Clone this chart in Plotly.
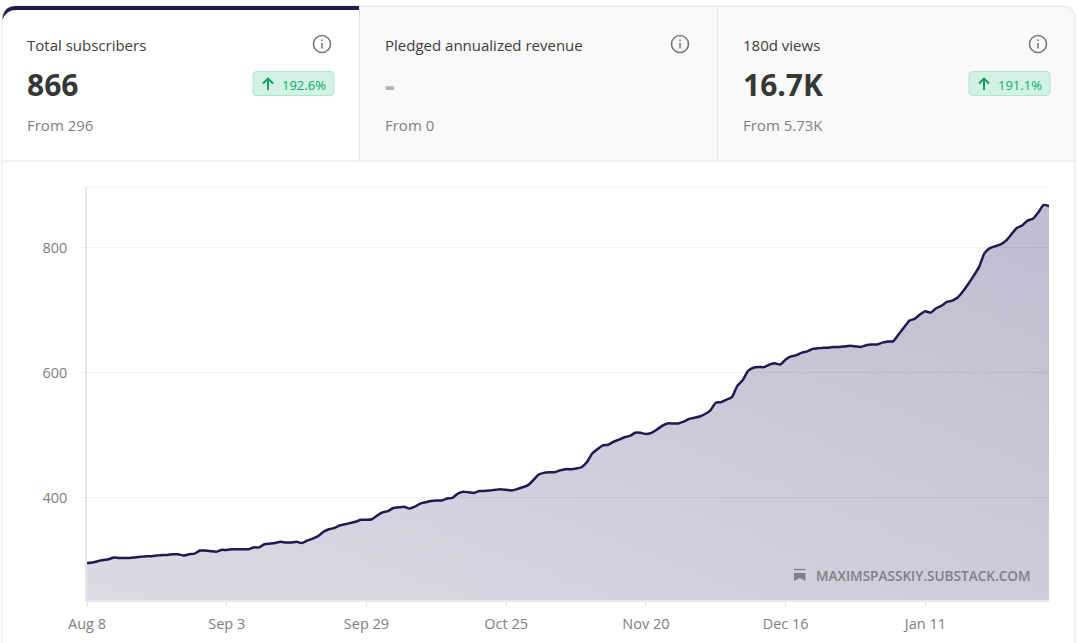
import pandas as pd
import plotly.graph_objects as go

# daily subscriber counts, Aug 8 to Feb 3
subscribers = [
    296, 297, 299, 301, 302, 305, 304, 304, 304, 305, 306, 307, 307, 308, 309, 309, 310, 310, 308, 310,
    311, 316, 316, 315, 314, 317, 317, 318, 318, 318, 318, 321, 321, 326, 327, 328, 330, 329, 329, 330,
    328, 332, 335, 339, 346, 350, 352, 356, 358, 360, 362, 365, 365, 366, 372, 377, 379, 384, 385, 386,
    383, 386, 391, 393, 395, 396, 396, 399, 400, 407, 410, 409, 408, 411, 411, 412, 413, 414, 413, 412,
    414, 417, 420, 428, 437, 440, 441, 441, 444, 446, 446, 447, 449, 457, 471, 478, 484, 485, 490, 493,
    497, 499, 504, 504, 502, 504, 509, 515, 519, 519, 519, 522, 526, 528, 530, 534, 540, 552, 553, 557,
    561, 579, 588, 603, 608, 609, 609, 613, 615, 613, 621, 626, 628, 632, 634, 638, 639, 640, 640, 641,
    641, 642, 643, 642, 641, 644, 645, 645, 648, 650, 650, 661, 672, 683, 686, 693, 698, 696, 703, 707,
    713, 715, 720, 730, 742, 755, 769, 791, 799, 802, 805, 811, 821, 831, 835, 843, 846, 856, 868, 866,
]
dates = pd.date_range("2024-08-08", periods=len(subscribers), freq="D")

x_ticks = ["2024-08-08", "2024-09-03", "2024-09-29", "2024-10-25", "2024-11-20", "2024-12-16", "2025-01-11"]
x_labels = ["Aug 8", "Sep 3", "Sep 29", "Oct 25", "Nov 20", "Dec 16", "Jan 11"]
y_ticks = [400, 600, 800]

card_titles = ["Total subscribers", "Pledged annualized revenue", "180d views"]
card_values = ["866", "-", "16.7K"]
card_froms = ["From 296", "From 0", "From 5.73K"]
card_badges = ["192.6%", None, "191.1%"]

FONT = "Open Sans"
NAVY = "#1f1a4f"
BORDER = "#e4e4e6"
W, H = 1078, 643
L, R, T, B = 87, 1049, 187, 600


# pixel position on the page -> paper coordinates
def xp(px):
    return (px - L) / (R - L)


def yp(py):
    return (B - py) / (B - T)


fig = go.Figure()

# two stacked fills give the diagonal shading of the area
fig.add_trace(go.Scatter(
    x=dates, y=subscribers, mode="lines", line=dict(width=0), fill="tozeroy",
    fillgradient=dict(type="vertical", start=237, stop=868,
                      colorscale=[[0, "rgba(31,26,90,0)"], [1, "rgba(31,26,90,0.08)"]]),
    hoverinfo="skip", showlegend=False))
fig.add_trace(go.Scatter(
    x=dates, y=subscribers, mode="lines",
    line=dict(color=NAVY, width=2.5, shape="spline", smoothing=0.5),
    fill="tozeroy",
    fillgradient=dict(type="horizontal",
                      colorscale=[[0, "rgba(31,26,90,0.16)"], [1, "rgba(31,26,90,0.225)"]]),
    showlegend=False))

shapes = []


def rect(x0, y0, x1, y1, fill, line=None, width=1):
    shapes.append(dict(type="rect", xref="paper", yref="paper", x0=xp(x0), x1=xp(x1), y0=yp(y0), y1=yp(y1),
                       fillcolor=fill, line=dict(color=line, width=width if line else 0), layer="below"))


def seg(x0, y0, x1, y1, color, width=1, layer="above"):
    shapes.append(dict(type="line", xref="paper", yref="paper", x0=xp(x0), x1=xp(x1), y0=yp(y0), y1=yp(y1),
                       line=dict(color=color, width=width), layer=layer))


def path(points, fill=None, line=None, width=1):
    # points are page pixels, a letter starts a new command
    out = []
    for p in points:
        if isinstance(p, str):
            out.append(p)
        else:
            out.append(f"{xp(p[0]):.5f},{yp(p[1]):.5f}")
    shapes.append(dict(type="path", xref="paper", yref="paper", path=" ".join(out),
                       fillcolor=fill or "rgba(0,0,0,0)",
                       line=dict(color=line or "rgba(0,0,0,0)", width=width)))


def label(px, py, text, size, color, bold=False, anchor="left"):
    fig.add_annotation(xref="paper", yref="paper", x=xp(px), y=yp(py), text=f"<b>{text}</b>" if bold else text,
                       showarrow=False, xanchor=anchor, yanchor="middle", xshift=0, borderpad=0,
                       font=dict(family=FONT, size=size, color=color))


# inactive tabs background and rules of the card
rect(360, 6, 1075, 161, "#f9f9f9")
path(["M", (2, 643), "L", (2, 20), "Q", (2, 6), (16, 6), "L", (1061, 6), "Q", (1075, 6), (1075, 20), "L", (1075, 643)],
     line=BORDER, width=1)
seg(2, 161, 1075, 161, BORDER)
seg(359.5, 6, 359.5, 161, BORDER)
seg(717.5, 6, 717.5, 161, BORDER)
# active tab marker
path(["M", (2.5, 20), "Q", (3, 6), (16, 6), "L", (359, 6), "L", (359, 10), "L", (16, 10), "Q", (6, 10), (2.5, 20), "Z"],
     fill=NAVY)
# top edge of the plot
seg(L, T, R, T, "#f3f3f3", layer="below")

card_left = [26, 384, 742]
info_x = [322, 680, 1038]
badge_right = [334, 0, 1050]
for i in range(3):
    left = card_left[i]
    label(left, 44.5, card_titles[i], 15, "#3d3d3d")
    if card_badges[i] is None:
        label(left, 84.5, card_values[i], 30, "#b3b3b3", bold=True)
    else:
        label(left, 84.5, card_values[i], 30, "#363737", bold=True)
    label(left, 125.5, card_froms[i], 15, "#808080")

    cx = info_x[i]
    shapes.append(dict(type="circle", xref="paper", yref="paper", x0=xp(cx - 8.5), x1=xp(cx + 8.5), y0=yp(35.5), y1=yp(52.5),
                       line=dict(color="#7b7b7b", width=1.6), fillcolor="rgba(0,0,0,0)"))
    seg(cx, 43, cx, 48.5, "#7b7b7b", 1.6)
    seg(cx, 39.5, cx, 41, "#7b7b7b", 1.6)

    if card_badges[i] is not None:
        r = badge_right[i]
        b = r - 81
        path(["M", (b + 4, 71.5), "L", (r - 4, 71.5), "Q", (r, 71.5), (r, 75.5), "L", (r, 91.5), "Q", (r, 95.5), (r - 4, 95.5),
              "L", (b + 4, 95.5), "Q", (b, 95.5), (b, 91.5), "L", (b, 75.5), "Q", (b, 71.5), (b + 4, 71.5), "Z"],
             fill="#d1f2e4", line="#ace6cf", width=1)
        ax = b + 15
        seg(ax, 78.5, ax, 90, "#0a9e62", 1.9)
        path(["M", (ax - 5, 83.5), "L", (ax, 78.5), "L", (ax + 5, 83.5)], line="#0a9e62", width=1.9)
        label(r - 7.5, 85, card_badges[i], 13, "#0fa968", anchor="right")

# watermark
seg(794, 569.5, 805.5, 569.5, "#7f7e8a", 1.3)
path(["M", (794, 573), "L", (805.5, 573), "L", (805.5, 581), "L", (799.7, 578), "L", (794, 581), "Z"], fill="#7f7e8a")
label(814.5, 575, "MAXIMSPASSKIY.SUBSTACK.COM", 13.6, "#7f7e8a")
fig.layout.annotations[-1].font.weight = 600

fig.update_layout(
    width=W, height=H, margin=dict(l=L, r=W - R, t=T, b=H - B),
    paper_bgcolor="white", plot_bgcolor="white",
    shapes=shapes, hovermode="x",
    font=dict(family=FONT, size=14, color="#808080"),
)
fig.update_xaxes(
    automargin=False, range=[dates[0], dates[-1]], tickmode="array", tickvals=x_ticks, ticktext=x_labels,
    showgrid=False, zeroline=False, showline=True, linecolor="#e6e6e6", linewidth=1.5,
    ticks="outside", ticklen=5, tickcolor="#e6e6e6", ticklabelstandoff=5, tickfont=dict(size=14.5, color="#808080"),
)
fig.update_yaxes(
    automargin=False, range=[237, 896.6], tickmode="array", tickvals=y_ticks,
    showgrid=True, gridcolor="#f1f1f1", gridwidth=1, zeroline=False, showline=True, linecolor="#e6e6e6", linewidth=1.5,
    ticks="outside", ticklen=5, tickcolor="#f1f1f1", ticklabelstandoff=10, tickfont=dict(size=14.5, color="#808080"),
)

fig.write_html("out.html", config=dict(displayModeBar=False),
               post_script="document.body.style.margin='0';document.body.style.overflow='hidden';")
